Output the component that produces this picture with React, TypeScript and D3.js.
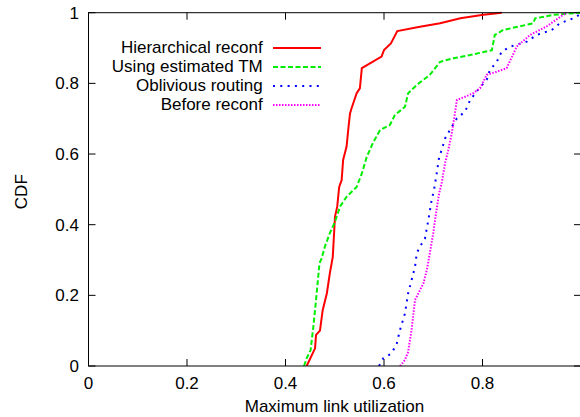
import React from "react";
import * as d3 from "d3";

// CDF samples of maximum link utilization: [utilization, cumulative fraction]
const hierarchicalReconf: [number, number][] = [
  [0.443, 0], [0.46, 0.05], [0.462, 0.088], [0.47, 0.1], [0.4755, 0.158], [0.484, 0.206],
  [0.49, 0.262], [0.496, 0.309], [0.5005, 0.423], [0.505, 0.451], [0.509, 0.507],
  [0.514, 0.526], [0.517, 0.583], [0.524, 0.621], [0.528, 0.677], [0.531, 0.715],
  [0.534, 0.729], [0.5445, 0.772], [0.551, 0.786], [0.555, 0.843], [0.595, 0.876],
  [0.6, 0.894], [0.614, 0.913], [0.627, 0.948], [0.673, 0.96], [0.714, 0.97],
  [0.755, 0.984], [0.802, 0.994], [0.839, 1.0],
];

const usingEstimatedTM: [number, number][] = [
  [0.4376, 0], [0.443, 0.022], [0.451, 0.045], [0.4565, 0.111], [0.462, 0.187],
  [0.469, 0.291], [0.4735, 0.305], [0.48, 0.338], [0.49, 0.376], [0.5005, 0.408],
  [0.5107, 0.451], [0.524, 0.479], [0.5445, 0.507], [0.555, 0.545], [0.565, 0.592],
  [0.577, 0.63], [0.592, 0.668], [0.612, 0.682], [0.622, 0.71], [0.6426, 0.734],
  [0.649, 0.772], [0.666, 0.795], [0.693, 0.824], [0.714, 0.861], [0.741, 0.871],
  [0.775, 0.88], [0.819, 0.894], [0.825, 0.937], [0.842, 0.951], [0.903, 0.97],
  [0.907, 0.984], [0.944, 0.994], [0.998, 1.0],
];

const obliviousRouting: [number, number][] = [
  [0.59, 0], [0.5986, 0.022], [0.6156, 0.036], [0.626, 0.064], [0.6325, 0.102],
  [0.6426, 0.149], [0.649, 0.206], [0.656, 0.243], [0.663, 0.281], [0.6665, 0.319],
  [0.673, 0.338], [0.683, 0.36], [0.69, 0.413], [0.6968, 0.47], [0.7015, 0.498],
  [0.707, 0.545], [0.712, 0.592], [0.717, 0.611], [0.724, 0.644], [0.7375, 0.677],
  [0.748, 0.701], [0.7645, 0.72], [0.775, 0.753], [0.7915, 0.783], [0.8085, 0.81],
  [0.815, 0.838], [0.829, 0.861], [0.839, 0.89], [0.856, 0.904], [0.89, 0.918],
  [0.91, 0.937], [0.9405, 0.951], [0.957, 0.97], [0.984, 0.984], [1.0, 0.997],
];

const beforeReconf: [number, number][] = [
  [0.6325, 0], [0.6426, 0.017], [0.649, 0.04], [0.656, 0.102], [0.663, 0.187],
  [0.67, 0.206], [0.68, 0.234], [0.687, 0.272], [0.693, 0.319], [0.7, 0.376],
  [0.7056, 0.432], [0.712, 0.489], [0.717, 0.517], [0.724, 0.574], [0.7305, 0.611],
  [0.7375, 0.658], [0.744, 0.715], [0.748, 0.753], [0.7645, 0.762], [0.781, 0.772],
  [0.795, 0.786], [0.8085, 0.824], [0.829, 0.833], [0.849, 0.843], [0.8695, 0.904],
  [0.8965, 0.937], [0.93, 0.961], [0.964, 0.994], [0.971, 1.0],
];

const seriesNames = ["Hierarchical reconf", "Using estimated TM", "Oblivious routing", "Before reconf"];
const seriesColors = ["#ff0000", "#00ee00", "#0000ff", "#ff00ff"];
const seriesDashes = ["none", "5,2.5", "2,5.3", "1.5,1.5"];
const seriesData = [hierarchicalReconf, usingEstimatedTM, obliviousRouting, beforeReconf];

// tick marks run across the full domain; the labelled ones stop at 0.8 on x
const xTicks = [0, 0.2, 0.4, 0.6, 0.8, 1];
const xTickLabels = [0, 0.2, 0.4, 0.6, 0.8];
const yTicks = [0, 0.2, 0.4, 0.6, 0.8, 1];

const W = 580;
const H = 417;
const left = 88.5;
const right = 581;
const top = 12.7;
const bottom = 366;
const FONT = "'Liberation Sans', Arial, Helvetica, sans-serif";
const FS = 17;

export default function App() {
  const x = d3.scaleLinear().domain([0, 1]).range([left, right]);
  const y = d3.scaleLinear().domain([0, 1]).range([bottom, top]);
  const line = d3
    .line<[number, number]>()
    .x((d) => x(d[0]))
    .y((d) => y(d[1]));
  const tickLen = 7;

  return (
    <svg
      width={W}
      height={H}
      style={{ position: "absolute", left: 0, top: 0, background: "#fff" }}
      fontFamily={FONT}
    >
      <defs>
        <clipPath id="plot-clip">
          <rect x={left} y={top - 2} width={right - left} height={bottom - top + 2} />
        </clipPath>
      </defs>
      <rect x={0} y={0} width={W} height={H} fill="#fff" />

      {/* ticks on all four sides, pointing inward */}
      {xTicks.map((t) => (
        <g key={"xt" + t}>
          <line x1={x(t)} x2={x(t)} y1={bottom} y2={bottom - tickLen} stroke="#000" />
          <line x1={x(t)} x2={x(t)} y1={top} y2={top + tickLen} stroke="#000" />
        </g>
      ))}
      {xTickLabels.map((t) => (
        <text key={"xl" + t} x={x(t)} y={388.5} fontSize={FS} textAnchor="middle" fill="#000">
          {String(t)}
        </text>
      ))}
      {yTicks.map((t) => (
        <g key={"yt" + t}>
          <line x1={left} x2={left + tickLen} y1={y(t)} y2={y(t)} stroke="#000" />
          <line x1={right} x2={right - tickLen} y1={y(t)} y2={y(t)} stroke="#000" />
          <text x={79} y={y(t) + 6} fontSize={FS} textAnchor="end" fill="#000">
            {String(t)}
          </text>
        </g>
      ))}

      {/* curves */}
      <g clipPath="url(#plot-clip)">
        {seriesData.map((d, i) => (
          <path
            key={seriesNames[i]}
            d={line(d) || ""}
            fill="none"
            stroke={seriesColors[i]}
            strokeWidth={2}
            strokeDasharray={seriesDashes[i]}
          />
        ))}
      </g>

      {/* frame */}
      <rect x={left} y={top} width={right - left} height={bottom - top} fill="none" stroke="#000" strokeWidth={1} />

      {/* legend */}
      {seriesNames.map((name, i) => {
        const ly = 48 + i * 19;
        return (
          <g key={"lg" + name}>
            <text x={262.7} y={ly + 5} fontSize={FS} textAnchor="end" fill="#000">
              {name}
            </text>
            <line
              x1={273}
              x2={321}
              y1={ly}
              y2={ly}
              stroke={seriesColors[i]}
              strokeWidth={2}
              strokeDasharray={seriesDashes[i]}
            />
          </g>
        );
      })}

      {/* axis titles */}
      <text x={334.5} y={412} fontSize={FS} textAnchor="middle" fill="#000">
        Maximum link utilization
      </text>
      <text transform="translate(26.5,191.7) rotate(-90)" fontSize={FS} textAnchor="middle" fill="#000">
        CDF
      </text>
    </svg>
  );
}
